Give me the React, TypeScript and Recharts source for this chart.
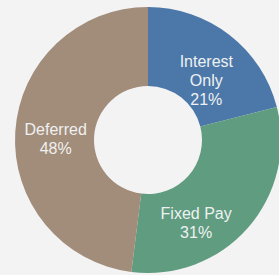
import React from "react";
import { PieChart, Pie, Cell } from "recharts";

const categories = ["Interest Only", "Fixed Pay", "Deferred"];
const labelLines = [["Interest", "Only"], ["Fixed Pay"], ["Deferred"]];
const values = [21, 31, 48];
const colors = ["#4b78a9", "#5f9c80", "#a28c7a"];

const data = categories.map((name, i) => ({ name, value: values[i] }));

const NUDGE = [
  { dx: 1, dy: 14 },
  { dx: -22, dy: 21 },
  { dx: 1, dy: 4 },
];

const RAD = Math.PI / 180;

const renderLabel = (props: any) => {
  const { cx, cy, midAngle, innerRadius, outerRadius, index, value } = props;
  const r = (innerRadius + outerRadius) / 2;
  const x = cx + r * Math.cos(-midAngle * RAD) + NUDGE[index].dx;
  const y = cy + r * Math.sin(-midAngle * RAD) + NUDGE[index].dy;
  const lines = [...labelLines[index], `${value}%`];
  const lh = 19;
  const startY = y - ((lines.length - 1) * lh) / 2;
  return (
    <text
      x={x}
      y={startY}
      textAnchor="middle"
      dominantBaseline="central"
      fill="#eff1f1"
      fontSize={16}
      fontFamily="'Liberation Sans', Arial, sans-serif"
    >
      {lines.map((l, i) => (
        <tspan key={i} x={x} y={startY + i * lh}>
          {l}
        </tspan>
      ))}
    </text>
  );
};

export default function App() {
  return (
    <div
      style={{
        position: "absolute",
        left: 0,
        top: 0,
        width: 279,
        height: 275,
        background: "#f3f3f3",
      }}
    >
      <PieChart
        width={279}
        height={275}
        margin={{ top: 0, right: 0, bottom: 0, left: 0 }}
      >
        <Pie
          data={data}
          dataKey="value"
          nameKey="name"
          cx={148}
          cy={140}
          innerRadius={54}
          outerRadius={133}
          startAngle={90}
          endAngle={-270}
          stroke="none"
          label={renderLabel}
          labelLine={false}
          isAnimationActive={false}
        >
          {data.map((d, i) => (
            <Cell key={d.name} fill={colors[i]} />
          ))}
        </Pie>
      </PieChart>
    </div>
  );
}
